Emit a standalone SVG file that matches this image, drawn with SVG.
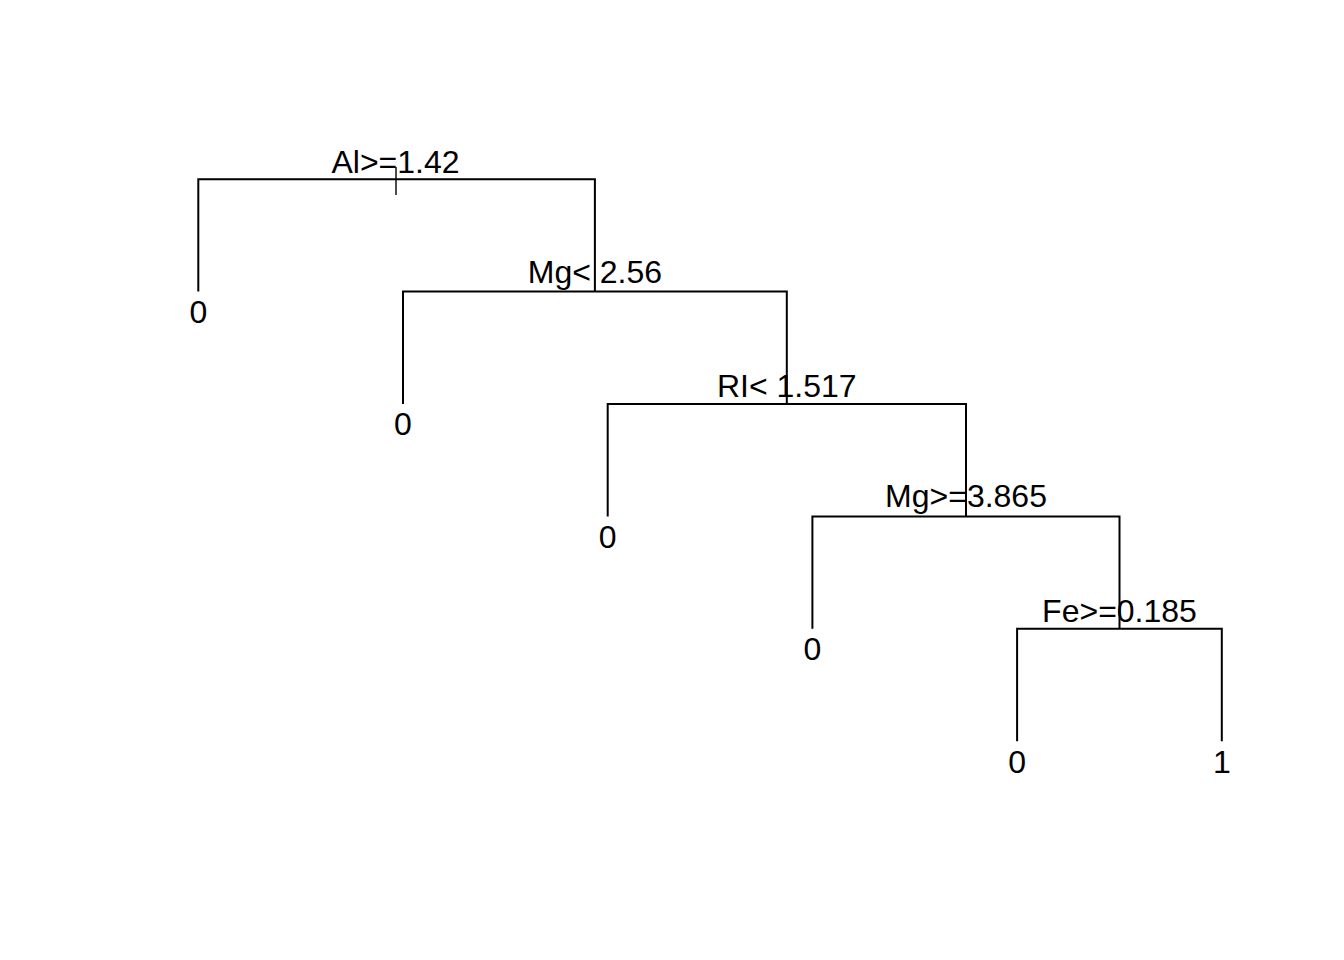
<svg xmlns="http://www.w3.org/2000/svg" width="1344" height="960" viewBox="0 0 1344 960">
<style>
.lbl{font-family:"Liberation Sans",Arial,sans-serif;font-size:32px;fill:#000;text-anchor:middle}
.br{fill:none;stroke:#000;stroke-width:2;stroke-linecap:butt;stroke-linejoin:miter}
</style>
<rect x="0" y="0" width="1344" height="960" fill="#fff"/>
<g id="connectors">
<path class="br" d="M198.3,291.6 V179.2 H594.9 V291.6"/>
<path class="br" d="M403,404 V291.6 H786.8 V404"/>
<path class="br" d="M607.7,516.4 V404 H966 V516.4"/>
<path class="br" d="M812.4,628.8 V516.4 H1119.5 V628.8"/>
<path class="br" d="M1017.1,741.2 V628.8 H1221.8 V741.2"/>
<line x1="396" y1="167" x2="396" y2="195" stroke="#000" stroke-width="1.4"/>
</g>
<g id="n1"><text class="lbl" x="395.5" y="172.5">Al&gt;=1.42</text></g>
<g id="n3"><text class="lbl" x="594.9" y="283">Mg&lt; 2.56</text></g>
<g id="n7"><text class="lbl" x="786.8" y="397.3">RI&lt; 1.517</text></g>
<g id="n15"><text class="lbl" x="966" y="507">Mg&gt;=3.865</text></g>
<g id="n31"><text class="lbl" x="1119.5" y="622">Fe&gt;=0.185</text></g>
<g id="leaf2"><text class="lbl" x="198.3" y="323">0</text></g>
<g id="leaf6"><text class="lbl" x="403" y="435.4">0</text></g>
<g id="leaf14"><text class="lbl" x="607.7" y="547.8">0</text></g>
<g id="leaf30"><text class="lbl" x="812.4" y="660.2">0</text></g>
<g id="leaf62"><text class="lbl" x="1017.1" y="772.6">0</text></g>
<g id="leaf63"><text class="lbl" x="1221.8" y="772.6">1</text></g>
</svg>
